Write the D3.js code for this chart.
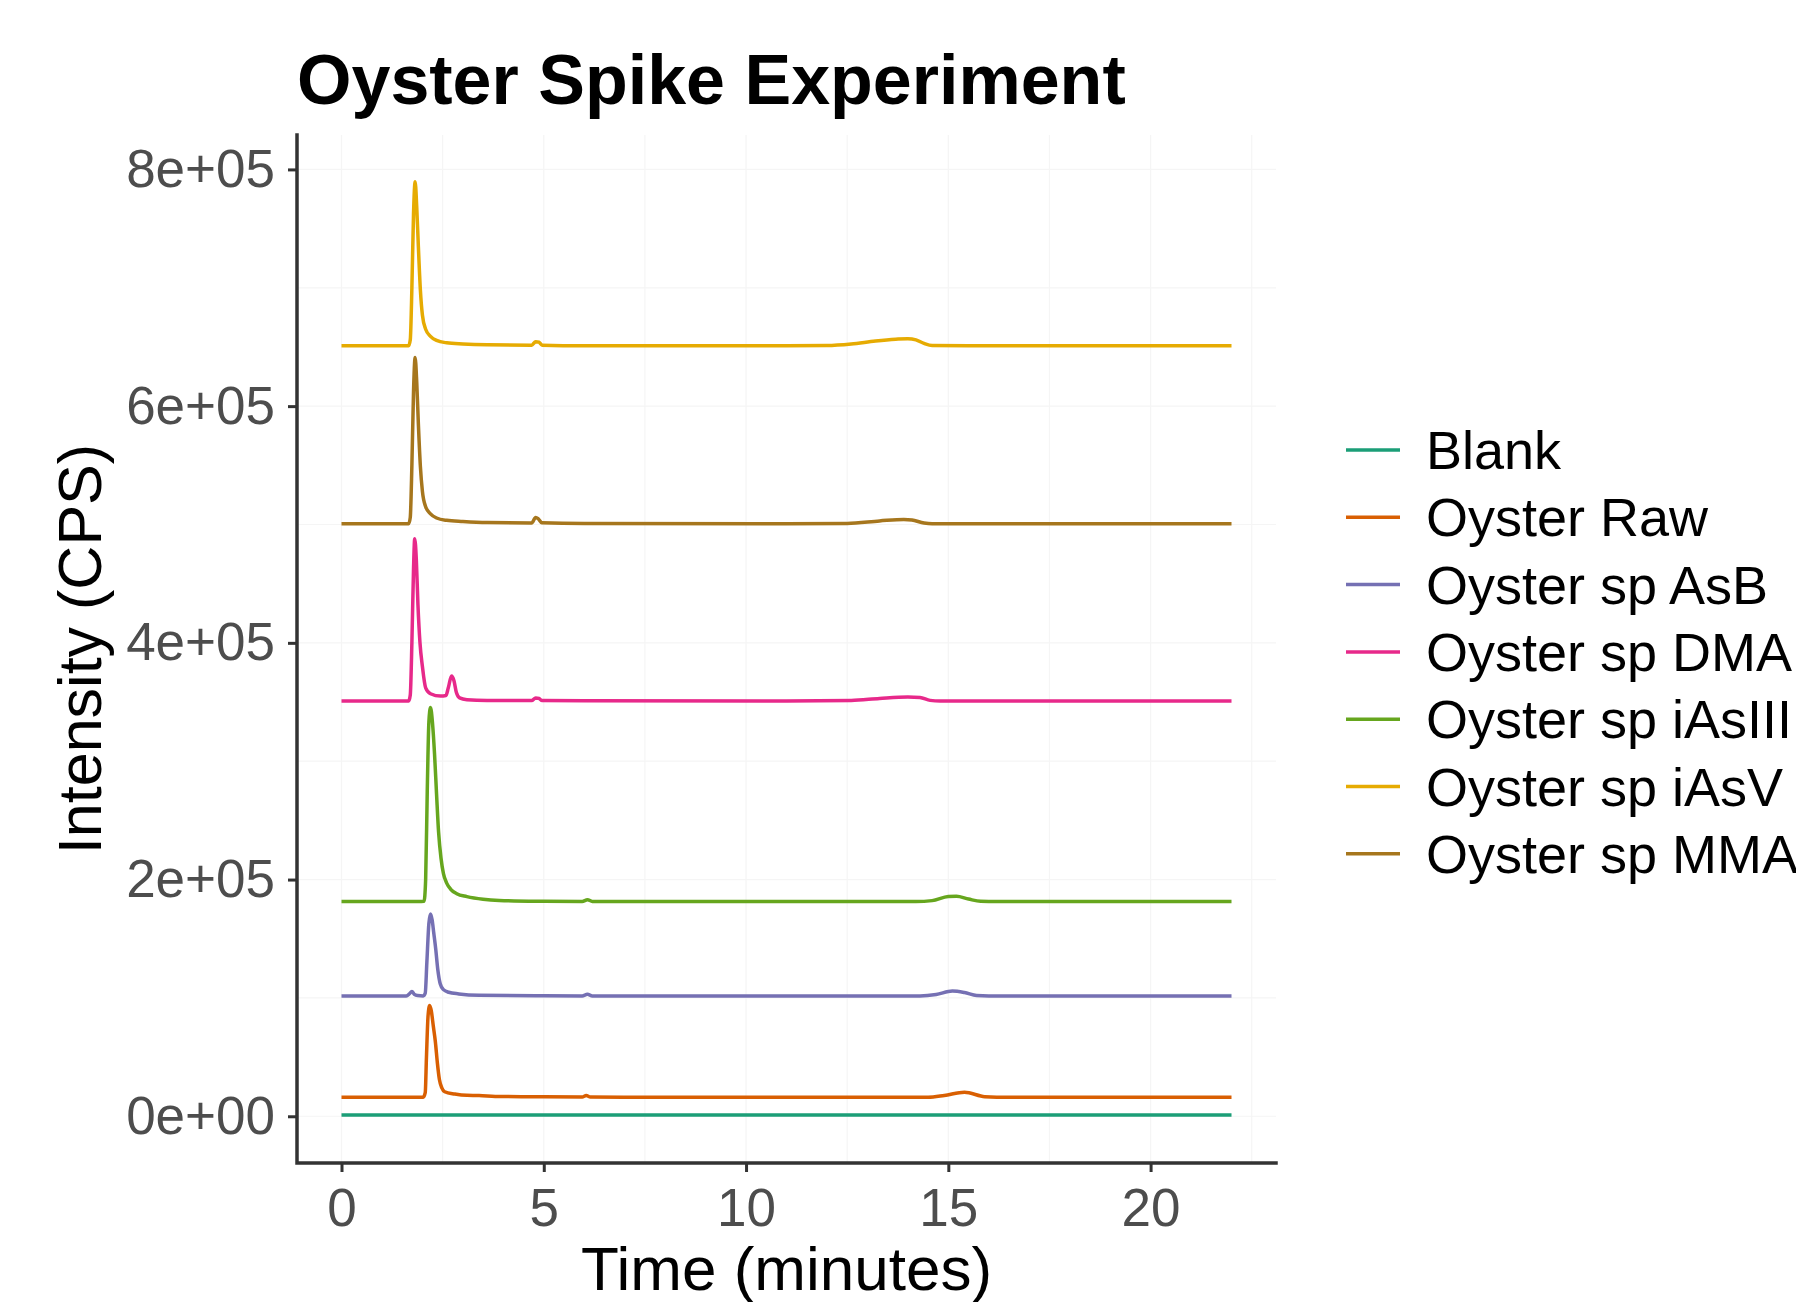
<!DOCTYPE html>
<html>
<head>
<meta charset="utf-8">
<script src="https://cdn.jsdelivr.net/npm/d3@7"></script>
<style>
  body { margin: 0; background: #fff; }
  text { font-family: "Liberation Sans", Arial, Helvetica, sans-serif; }
</style>
</head>
<body>
<div id="chart"></div>
<script>
// chromatogram traces: [time (min), intensity (CPS)]
var seriesNames = ["Blank", "Oyster Raw", "Oyster sp AsB", "Oyster sp DMA",
  "Oyster sp iAsIII", "Oyster sp iAsV", "Oyster sp MMA"];
var seriesColors = ["#1B9E77", "#D95F02", "#7570B3", "#E7298A", "#66A61E", "#E6AB02", "#A6761D"];

var blankPts = [[0, 1000], [5, 1000], [10, 1000], [15, 1000], [22, 1000]];

var rawPts = [[0, 16100], [2.02, 16100], [2.07, 20000], [2.1, 50000], [2.14, 85000], [2.18, 93600],
  [2.22, 89000], [2.27, 76000], [2.32, 63000], [2.37, 45000], [2.42, 31000], [2.48, 24000],
  [2.55, 20700], [2.8, 18800], [3.1, 17700], [3.4, 17600], [3.8, 16800], [5, 16400], [5.95, 16300],
  [6.05, 17500], [6.15, 16300], [7, 16100], [14.5, 16100], [14.9, 17600], [15.4, 20300],
  [15.9, 16500], [16.2, 16100], [22, 16100]];

var asbPts = [[0, 101600], [1.6, 101600], [1.68, 103500], [1.74, 105500], [1.8, 103000], [1.88, 102000],
  [2.02, 101700], [2.07, 104000], [2.11, 130000], [2.16, 163000], [2.2, 171000], [2.24, 166000],
  [2.28, 155000], [2.33, 141000], [2.38, 124000], [2.44, 112000], [2.52, 107000], [2.65, 104800],
  [2.9, 103400], [3.4, 102200], [5, 101800], [5.95, 101700], [6.08, 103000], [6.2, 101700],
  [7, 101600], [14.3, 101600], [14.7, 102800], [15.1, 105800], [15.4, 104500], [15.7, 102000],
  [16, 101600], [22, 101600]];

var dmaPts = [[0, 350900], [1.66, 350900], [1.7, 356000], [1.74, 400000], [1.78, 462000], [1.81, 488000],
  [1.85, 470000], [1.89, 432000], [1.94, 400000], [2.0, 380000], [2.08, 362000], [2.2, 357000],
  [2.45, 355000], [2.58, 355500], [2.64, 362000], [2.72, 372000], [2.78, 368000], [2.84, 358000],
  [2.92, 353500], [3.1, 352000], [3.6, 351300], [4.7, 351200], [4.8, 353500], [4.88, 353000],
  [4.96, 351200], [6, 351000], [11, 350900], [12.6, 351300], [13.3, 353000], [14.0, 354200],
  [14.3, 353800], [14.55, 351400], [14.8, 350900], [22, 350900]];

var iAsIIIPts = [[0, 181400], [1.9, 181400], [2.04, 181600], [2.08, 200000], [2.12, 275000],
  [2.16, 333000], [2.2, 345400], [2.25, 332000], [2.3, 306000], [2.35, 272000], [2.4, 240000],
  [2.46, 218000], [2.52, 205000], [2.6, 197000], [2.7, 191800], [2.85, 188000], [3.1, 185600],
  [3.5, 183400], [3.9, 182400], [5, 181700], [5.95, 181500], [6.08, 183000], [6.2, 181500],
  [7, 181400], [14.2, 181400], [14.6, 182200], [15.0, 185600], [15.2, 185800], [15.5, 183500],
  [15.8, 181600], [16.2, 181400], [22, 181400]];

var iAsVPts = [[0, 651000], [1.66, 651000], [1.7, 656000], [1.74, 700000], [1.78, 762000], [1.82, 789600],
  [1.86, 768000], [1.9, 735000], [1.95, 698000], [2.0, 677000], [2.08, 665000], [2.2, 659000],
  [2.35, 655500], [2.6, 653500], [3.0, 652500], [3.6, 651800], [4.7, 651500], [4.8, 654500],
  [4.88, 654000], [4.96, 651500], [6, 651000], [11, 651000], [12.0, 651200], [12.6, 652500],
  [13.2, 655000], [13.7, 656500], [14.0, 657000], [14.2, 656000], [14.4, 653000], [14.6, 651200],
  [15.5, 651000], [22, 651000]];

var mmaPts = [[0, 500600], [1.66, 500600], [1.7, 506000], [1.74, 550000], [1.78, 612000], [1.82, 641000],
  [1.86, 620000], [1.9, 585000], [1.95, 549000], [2.0, 528000], [2.08, 515000], [2.2, 509000],
  [2.35, 505500], [2.6, 503500], [3.0, 502500], [3.6, 501600], [4.7, 501300], [4.8, 506000],
  [4.86, 505000], [4.95, 501500], [6, 500800], [11, 500600], [12.5, 500900], [13.3, 503000],
  [13.9, 504300], [14.1, 503800], [14.4, 501200], [14.6, 500600], [22, 500600]];

var seriesPts = [blankPts, rawPts, asbPts, dmaPts, iAsIIIPts, iAsVPts, mmaPts];

var xTicks = [0, 5, 10, 15, 20];
var yTicks = [0, 200000, 400000, 600000, 800000];

// basic setup
var svgWidth = 1796;
var svgHeight = 1302;
var panel = { left: 297, right: 1276, top: 135, bottom: 1163 };

var svg = d3.select("#chart")
  .append("svg")
  .attr("width", svgWidth)
  .attr("height", svgHeight);

// ggplot style 5% expansion
var allPts = d3.merge(seriesPts);
var xExt = d3.extent(allPts, d => d[0]);
var yExt = [0, d3.max(allPts, d => d[1])];
var xPad = (xExt[1] - xExt[0]) * 0.05;
var yPad = (yExt[1] - yExt[0]) * 0.05;

var x = d3.scaleLinear()
  .domain([xExt[0] - xPad, xExt[1] + xPad])
  .range([panel.left, panel.right]);

var y = d3.scaleLinear()
  .domain([yExt[0] - yPad, yExt[1] + yPad])
  .range([panel.bottom, panel.top]);

// faint grid, major and minor
var grid = svg.append("g");
var xMinor = d3.range(-2.5, 25, 2.5).filter(d => x(d) > panel.left && x(d) < panel.right);
var yMinor = d3.range(-100000, 900000, 100000).filter(d => y(d) > panel.top && y(d) < panel.bottom);
grid.selectAll("line.vx")
  .data(xMinor)
  .enter().append("line")
  .attr("x1", d => x(d)).attr("x2", d => x(d))
  .attr("y1", panel.top).attr("y2", panel.bottom)
  .attr("stroke", "#f5f5f5").attr("stroke-width", 1.2);
grid.selectAll("line.hy")
  .data(yMinor)
  .enter().append("line")
  .attr("y1", d => y(d)).attr("y2", d => y(d))
  .attr("x1", panel.left).attr("x2", panel.right)
  .attr("stroke", "#f5f5f5").attr("stroke-width", 1.2);

// traces
var line = d3.line()
  .x(d => x(d[0]))
  .y(d => y(d[1]))
  .curve(d3.curveMonotoneX);

svg.append("g")
  .selectAll("path")
  .data(seriesPts)
  .enter()
  .append("path")
  .attr("d", line)
  .attr("fill", "none")
  .attr("stroke", (d, i) => seriesColors[i])
  .attr("stroke-width", 3.5)
  .attr("stroke-linejoin", "round");

// scientific labels like ggplot: 8e+05
function sci(d) {
  var parts = d.toExponential(0).split("e");
  var e = +parts[1];
  return parts[0] + "e" + (e < 0 ? "-" : "+") + String(Math.abs(e)).padStart(2, "0");
}

var yAxis = d3.axisLeft(y).tickValues(yTicks).tickFormat(sci).tickSize(9).tickPadding(13);
var xAxis = d3.axisBottom(x).tickValues(xTicks).tickSize(9).tickPadding(16);

var yg = svg.append("g")
  .attr("transform", `translate(${panel.left}, 0)`)
  .call(yAxis);
var xg = svg.append("g")
  .attr("transform", `translate(0, ${panel.bottom})`)
  .call(xAxis);

[xg, yg].forEach(function(g) {
  g.select(".domain").remove();
  g.selectAll(".tick line").attr("stroke", "#333").attr("stroke-width", 3);
  g.selectAll(".tick text")
    .attr("fill", "#4d4d4d")
    .style("font-size", "53px")
    .style("font-family", "'Liberation Sans', Arial, sans-serif");
});

// axis lines (theme_classic)
svg.append("path")
  .attr("d", `M${panel.left},${panel.top}V${panel.bottom}H${panel.right}`)
  .attr("fill", "none")
  .attr("stroke", "#333")
  .attr("stroke-width", 3.5)
  .attr("stroke-linecap", "square");

// title
svg.append("text")
  .attr("x", panel.left)
  .attr("y", 104)
  .attr("font-size", "70px")
  .attr("font-weight", "bold")
  .attr("fill", "#000")
  .text("Oyster Spike Experiment");

// x axis title
svg.append("text")
  .attr("x", (panel.left + panel.right) / 2)
  .attr("y", 1290)
  .attr("text-anchor", "middle")
  .attr("font-size", "62px")
  .text("Time (minutes)");

// y axis title
svg.append("text")
  .attr("transform", `translate(101, ${(panel.top + panel.bottom) / 2}) rotate(-90)`)
  .attr("text-anchor", "middle")
  .attr("font-size", "61px")
  .text("Intensity (CPS)");

// legend
var legend = svg.append("g")
  .attr("transform", "translate(1346, 450)");

var rows = legend.selectAll("g")
  .data(seriesNames)
  .enter()
  .append("g")
  .attr("transform", (d, i) => `translate(0, ${i * 67.3})`);

rows.append("line")
  .attr("x1", 0).attr("x2", 54)
  .attr("stroke", (d, i) => seriesColors[i])
  .attr("stroke-width", 3.5);

rows.append("text")
  .attr("x", 80)
  .attr("y", 19)
  .attr("font-size", "54px")
  .text(d => d);
</script>
</body>
</html>
